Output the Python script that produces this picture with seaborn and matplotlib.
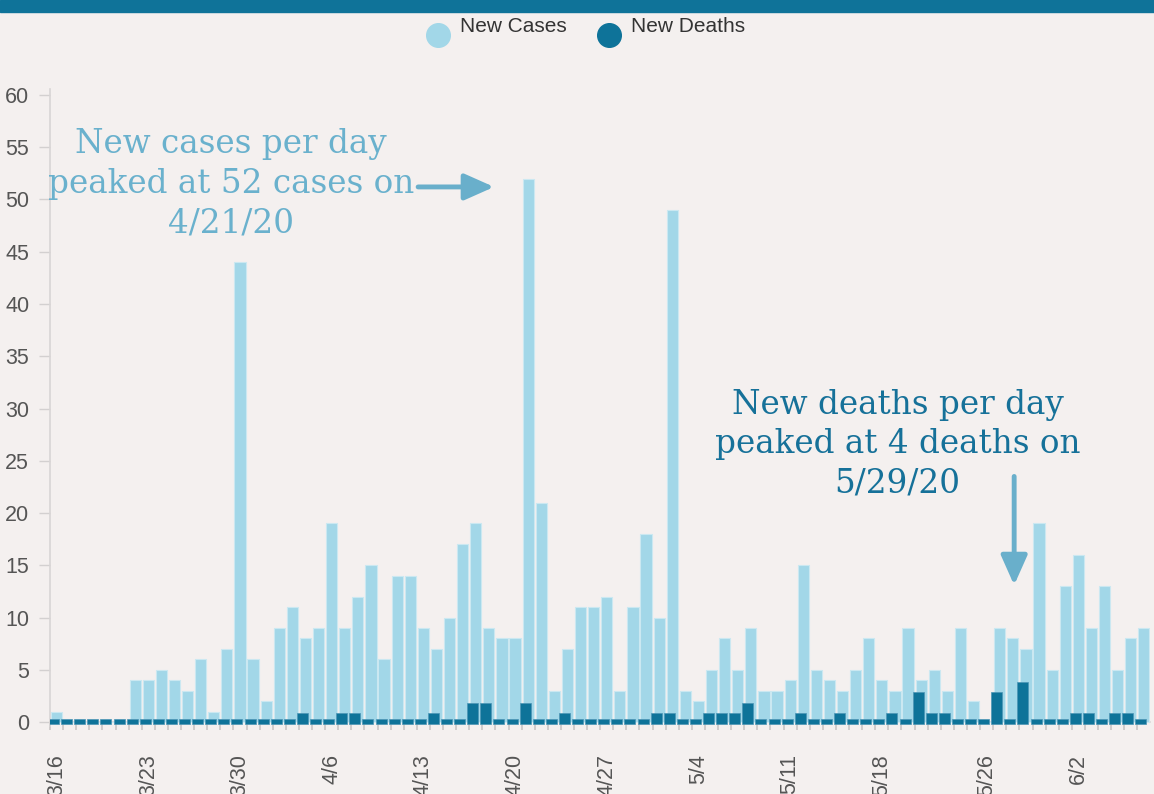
import numpy as np
import pandas as pd
import matplotlib
matplotlib.use("Agg")
import matplotlib.pyplot as plt
import matplotlib.transforms as mtransforms
from matplotlib.lines import Line2D
from matplotlib.patches import Rectangle
import seaborn as sns

# ---------------- data ----------------
dates = [f"{d.month}/{d.day}" for d in pd.date_range("2020-03-16", periods=84)]

new_cases = [1, 0, 0, 0, 0, 0, 4, 4, 5, 4,
             3, 6, 1, 7, 44, 6, 2, 9, 11, 8,
             9, 19, 9, 12, 15, 6, 14, 14, 9, 7,
             10, 17, 19, 9, 8, 8, 52, 21, 3, 7,
             11, 11, 12, 3, 11, 18, 10, 49, 3, 2,
             5, 8, 5, 9, 3, 3, 4, 15, 5, 4,
             3, 5, 8, 4, 3, 9, 4, 5, 3, 9,
             2, 0, 9, 8, 7, 19, 5, 13, 16, 9,
             13, 5, 8, 9]

new_deaths = [0, 0, 0, 0, 0, 0, 0, 0, 0, 0,
              0, 0, 0, 0, 0, 0, 0, 0, 0, 1,
              0, 0, 1, 1, 0, 0, 0, 0, 0, 1,
              0, 0, 2, 2, 0, 0, 2, 0, 0, 1,
              0, 0, 0, 0, 0, 0, 1, 1, 0, 0,
              1, 1, 1, 2, 0, 0, 0, 1, 0, 0,
              1, 0, 0, 0, 1, 0, 3, 1, 1, 0,
              0, 0, 3, 0, 4, 0, 0, 0, 1, 1,
              0, 1, 1, 0]

tick_labels = ["3/16", "3/23", "3/30", "4/6", "4/13", "4/20", "4/27",
               "5/4", "5/11", "5/18", "5/26", "6/2"]

series_names = ["New Cases", "New Deaths"]

# ---------------- style ----------------
BG = "#F4F0EF"
C_CASES = "#A2D7E8"
C_DEATHS = "#0E7399"
C_BAND = "#0F7399"
C_ANN_CASES = "#6AB1CD"
C_ANN_DEATHS = "#167199"
C_ARROW = "#69AFCB"

sns.set_style("white", {"axes.facecolor": BG, "figure.facecolor": BG})
plt.rcParams["font.family"] = ["Liberation Sans", "DejaVu Sans"]

fig = plt.figure(figsize=(11.54, 7.94), dpi=100)
ax = fig.add_axes([50 / 1154, 0.0860, 1100.4 / 1154, 0.8023])
ax.set_facecolor(BG)

df = pd.DataFrame({"date": dates, "cases": new_cases, "deaths": new_deaths})
# minimum visible height for zero-death days (like a min point length)
df["deaths_shown"] = np.where(df["deaths"] == 0, 0.45, df["deaths"])

sns.barplot(data=df, x="date", y="cases", order=dates, color=C_CASES,
            saturation=1, width=0.86, edgecolor="#CBE8F1", linewidth=0.8, ax=ax)
n_before = len(ax.patches)
sns.barplot(data=df, x="date", y="deaths_shown", order=dates, color=C_DEATHS,
            saturation=1, width=0.84, edgecolor="#4C95B5", linewidth=0.5, ax=ax)

for p in ax.patches[:n_before]:
    p.set_zorder(3)
# shift death bars slightly left/down (as in reference rendering)
off = mtransforms.ScaledTranslation(-3 / 100, -1.5 / 100, fig.dpi_scale_trans)
for p in ax.patches[n_before:]:
    p.set_transform(ax.transData + off)
    p.set_zorder(3.1)

ax.set_xlim(-0.5, len(dates) - 0.5)
ax.set_ylim(-0.35, 60.6)
ax.set_xlabel("")
ax.set_ylabel("")

# y axis
ax.set_yticks(np.arange(0, 61, 5))
ax.tick_params(axis="y", which="major", length=8, width=1, color="#D3D0D0",
               pad=7, labelsize=15.5, labelcolor="#555555", left=True)

# x axis
pos = [dates.index(t) for t in tick_labels]
ax.set_xticks(pos)
ax.set_xticklabels(tick_labels)
ax.set_xticks(np.arange(-0.5, len(dates) - 0.5, 1), minor=True)
ax.tick_params(axis="x", which="major", length=0, pad=23, labelsize=15.5,
               labelcolor="#555555", labelrotation=90)
ax.tick_params(axis="x", which="minor", length=6, width=1.2, color="#C9C5C5",
               bottom=True)
for lab in ax.get_xticklabels():
    lab.set_rotation(90)
    lab.set_va("top")
    lab.set_ha("center")

for s in ["top", "right"]:
    ax.spines[s].set_visible(False)
ax.spines["left"].set_color("#D8D5D5")
ax.spines["left"].set_linewidth(1.2)
ax.spines["bottom"].set_position(("data", 0))
ax.spines["bottom"].set_color("#D8D5D5")
ax.spines["bottom"].set_linewidth(1.2)
ax.spines["bottom"].set_zorder(1)

# ---------------- annotations ----------------
i_case = int(np.argmax(new_cases))
i_death = int(np.argmax(new_deaths))

ax.text(13.3, 51.5, "New cases per day\npeaked at 52 cases on\n4/21/20",
        ha="center", va="center", fontsize=23.5, family="DejaVu Serif",
        color=C_ANN_CASES, linespacing=1.3)
ax.annotate("", xy=(i_case - 2.6, 51.2), xytext=(i_case - 8.4, 51.2),
            arrowprops=dict(arrowstyle="-|>,head_length=0.9,head_width=0.4",
                            mutation_scale=20, lw=3.5, color=C_ARROW,
                            shrinkA=0, shrinkB=0))

ax.text(64.2, 26.6, "New deaths per day\npeaked at 4 deaths on\n5/29/20",
        ha="center", va="center", fontsize=23.5, family="DejaVu Serif",
        color=C_ANN_DEATHS, linespacing=1.3)
ax.annotate("", xy=(i_death - 0.9, 13.1), xytext=(i_death - 0.9, 23.5),
            arrowprops=dict(arrowstyle="-|>,head_length=0.9,head_width=0.4",
                            mutation_scale=20, lw=3.5, color=C_ARROW,
                            shrinkA=0, shrinkB=0))

# ---------------- header band and legend ----------------
fig.patches.append(Rectangle((0, 1 - 12 / 794), 1, 12 / 794,
                             transform=fig.transFigure, color=C_BAND, zorder=0))

leg_x = [438, 609]
for name, c, x in zip(series_names, [C_CASES, C_DEATHS], leg_x):
    fig.add_artist(Line2D([x / 1154], [1 - 35 / 794], marker="o", linestyle="",
                          markersize=17, markerfacecolor=c, markeredgecolor=c,
                          transform=fig.transFigure))
    fig.text((x + 22) / 1154, 1 - 27 / 794, name, ha="left", va="center",
             fontsize=15, color="#333333")

fig.savefig("out.png", dpi=100, facecolor=BG)
